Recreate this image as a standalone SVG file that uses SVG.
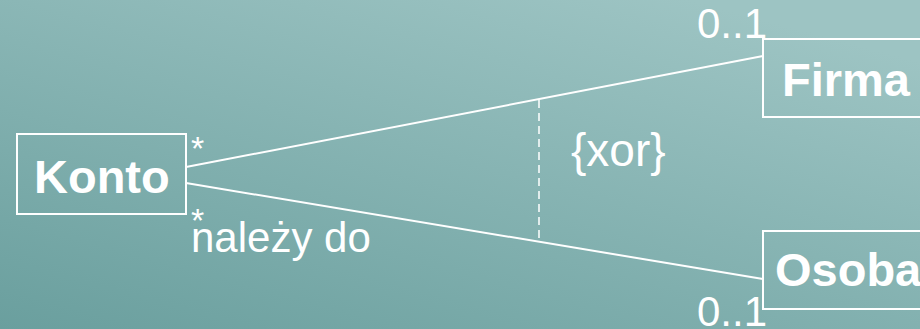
<svg xmlns="http://www.w3.org/2000/svg" width="920" height="329" viewBox="0 0 920 329">
  <defs>
    <linearGradient id="bg" x1="0" y1="1" x2="0.75" y2="0">
      <stop offset="0" stop-color="#6a9f9e"/>
      <stop offset="1" stop-color="#9dc4c3"/>
    </linearGradient>
    <style>
      .box { fill: none; stroke: #ffffff; stroke-width: 2; }
      .name { font-family: "Liberation Sans", Arial, sans-serif; font-weight: bold; font-size: 47px; fill: #ffffff; }
      .lbl { font-family: "Liberation Sans", Arial, sans-serif; font-size: 42px; fill: #ffffff; }
      .xor { font-family: "Liberation Sans", Arial, sans-serif; font-size: 46px; fill: #ffffff; }
      .star { font-family: "Liberation Sans", Arial, sans-serif; font-size: 34px; fill: #ffffff; }
      .assoc { stroke: #ffffff; stroke-width: 2; fill: none; }
      .constraint { stroke: #ffffff; stroke-width: 1.5; stroke-dasharray: 8 5; fill: none; }
    </style>
  </defs>

  <rect width="920" height="329" fill="url(#bg)"/>

  <!-- associations -->
  <g id="connectors">
    <line class="assoc" x1="186" y1="167" x2="763" y2="56"/>
    <line class="assoc" x1="186" y1="183" x2="763" y2="279"/>
    <line class="constraint" x1="539" y1="100" x2="539" y2="243"/>
    <text class="star" x="191" y="160">*</text>
    <text class="star" x="191" y="232">*</text>
    <text class="lbl" x="191" y="252">należy do</text>
    <text class="xor" x="571" y="166">{xor}</text>
    <text class="lbl" x="697" y="38">0..1</text>
    <text class="lbl" x="697" y="326">0..1</text>
  </g>

  <g id="konto">
    <rect class="box" x="17" y="134" width="169" height="80"/>
    <text class="name" x="34" y="193">Konto</text>
  </g>

  <g id="firma">
    <rect class="box" x="763" y="39" width="170" height="78"/>
    <text class="name" x="782" y="96">Firma</text>
  </g>

  <g id="osoba">
    <rect class="box" x="763" y="231" width="170" height="78"/>
    <text class="name" x="775" y="286">Osoba</text>
  </g>
</svg>
